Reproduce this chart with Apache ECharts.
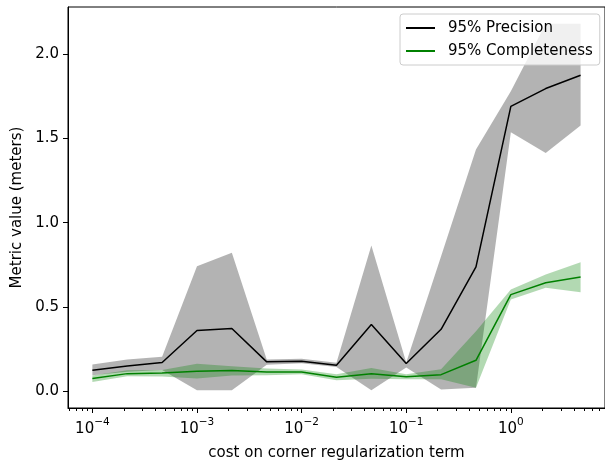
<!DOCTYPE html>
<html><head><meta charset="utf-8">
<script src="https://cdn.jsdelivr.net/npm/echarts@6/dist/echarts.min.js"></script>
<style>html,body{margin:0;padding:0;background:#fff}#c{width:605px;height:466px}</style>
</head><body><div id="c"></div>
<script>
// x values (cost on corner regularization term)
const cost = [1e-4, 2.154e-4, 4.642e-4, 1e-3, 2.154e-3, 4.642e-3, 1e-2, 2.154e-2, 4.642e-2, 0.1, 0.2154, 0.4642, 1, 2.154, 4.642];
// 95% Precision
const precision     = [0.124, 0.149, 0.170, 0.360, 0.372, 0.174, 0.178, 0.154, 0.396, 0.164, 0.367, 0.738, 1.690, 1.796, 1.875];
const precisionLow  = [0.095, 0.115, 0.125, 0.005, 0.005, 0.157, 0.165, 0.143, 0.005, 0.140, 0.010, 0.020, 1.537, 1.414, 1.576];
const precisionHigh = [0.158, 0.188, 0.204, 0.741, 0.821, 0.188, 0.192, 0.168, 0.864, 0.170, 0.800, 1.434, 1.780, 2.180, 2.180];
// 95% Completeness
const completeness     = [0.075, 0.104, 0.108, 0.118, 0.122, 0.114, 0.114, 0.083, 0.103, 0.085, 0.098, 0.183, 0.573, 0.643, 0.678];
const completenessLow  = [0.055, 0.089, 0.087, 0.075, 0.093, 0.095, 0.100, 0.065, 0.073, 0.070, 0.070, 0.020, 0.544, 0.613, 0.587];
const completenessHigh = [0.093, 0.124, 0.125, 0.162, 0.148, 0.135, 0.128, 0.100, 0.138, 0.100, 0.130, 0.356, 0.603, 0.692, 0.765];
// ticks
const xMajorExp = [-4, -3, -2, -1, 0];
const yTicks = [0, 0.5, 1.0, 1.5, 2.0];
const seriesNames = ['95% Precision', '95% Completeness'];

const FONT = 'DejaVu Sans';
const XMIN = -4.233, XMAX = 0.9;
const lx = cost.map(Math.log10);
const xMinor = [];
for (let d = -5; d <= 0; d++) for (let k = 2; k <= 9; k++) {
  const v = d + Math.log10(k);
  if (v > XMIN && v < XMAX) xMinor.push(v);
}

function band(low, high, fill, z) {
  return {
    type: 'custom', silent: true, clip: true, z: z,
    data: lx.map((x, i) => [x, high[i]]),
    encode: { x: 0, y: 1 },
    renderItem(params, api) {
      if (params.dataIndex !== 0) return null;
      const pts = [];
      for (let i = 0; i < lx.length; i++) pts.push(api.coord([lx[i], high[i]]));
      for (let i = lx.length - 1; i >= 0; i--) pts.push(api.coord([lx[i], low[i]]));
      return { type: 'polygon', shape: { points: pts }, style: { fill: fill } };
    }
  };
}

const chart = echarts.init(document.getElementById('c'), null, { renderer: 'canvas' });
chart.setOption({
  animation: false,
  backgroundColor: '#fff',
  textStyle: { fontFamily: FONT },
  grid: { left: 68, right: -2, top: 7, bottom: 58, show: true, borderColor: '#000', borderWidth: 1, backgroundColor: 'transparent' },
  legend: {
    data: seriesNames, orient: 'vertical', left: 400, top: 14,
    padding: [6, 7, 6, 6], itemGap: 7, itemWidth: 29, itemHeight: 2, icon: 'rect',
    backgroundColor: 'rgba(255,255,255,0.8)', borderColor: '#cccccc', borderWidth: 1, borderRadius: 3,
    textStyle: { fontFamily: FONT, fontSize: 15, color: '#000', padding: [0, 0, 0, 8], lineHeight: 16 }
  },
  xAxis: [{
    type: 'value', min: XMIN, max: XMAX, position: 'bottom',
    name: 'cost on corner regularization term', nameLocation: 'middle', nameGap: 38,
    nameTextStyle: { fontFamily: FONT, fontSize: 15, color: '#000' },
    axisLine: { show: true, onZero: false, lineStyle: { color: '#000', width: 1 } },
    axisTick: { show: true, customValues: xMajorExp, length: 5, lineStyle: { color: '#000' } },
    axisLabel: {
      customValues: xMajorExp, margin: 9, color: '#000',
      formatter: v => '{b|10}{s|' + (v < 0 ? '\u2212' + (-v) : String(v)) + '}',
      rich: {
        b: { fontFamily: FONT, fontSize: 15, color: '#000', verticalAlign: 'bottom', lineHeight: 20 },
        s: { fontFamily: FONT, fontSize: 10.5, color: '#000', verticalAlign: 'top', lineHeight: 20 }
      }
    },
    splitLine: { show: false }
  }, {
    type: 'value', min: XMIN, max: XMAX, position: 'bottom', gridIndex: 0,
    axisLine: { show: false, onZero: false },
    axisTick: { show: true, customValues: xMinor, length: 3, lineStyle: { color: '#000' } },
    axisLabel: { show: false }, splitLine: { show: false }
  }],
  yAxis: {
    type: 'value', min: -0.1, max: 2.28,
    name: 'Metric value (meters)', nameLocation: 'middle', nameGap: 40,
    nameTextStyle: { fontFamily: FONT, fontSize: 15, color: '#000' },
    axisLine: { show: true, onZero: false, lineStyle: { color: '#000', width: 1 } },
    axisTick: { show: true, customValues: yTicks, length: 5, lineStyle: { color: '#000' } },
    axisLabel: { customValues: yTicks, margin: 9, fontFamily: FONT, fontSize: 15, color: '#000', formatter: v => v.toFixed(1) },
    splitLine: { show: false }
  },
  series: [
    band(precisionLow, precisionHigh, 'rgba(128,128,128,0.6)', 1),
    { name: seriesNames[0], type: 'line', z: 2, symbol: 'none', data: lx.map((x, i) => [x, precision[i]]),
      lineStyle: { color: '#000', width: 1.5 }, itemStyle: { color: '#000' } },
    band(completenessLow, completenessHigh, 'rgba(0,128,0,0.3)', 3),
    { name: seriesNames[1], type: 'line', z: 4, symbol: 'none', data: lx.map((x, i) => [x, completeness[i]]),
      lineStyle: { color: '#008000', width: 1.5 }, itemStyle: { color: '#008000' } }
  ]
});
</script></body></html>
